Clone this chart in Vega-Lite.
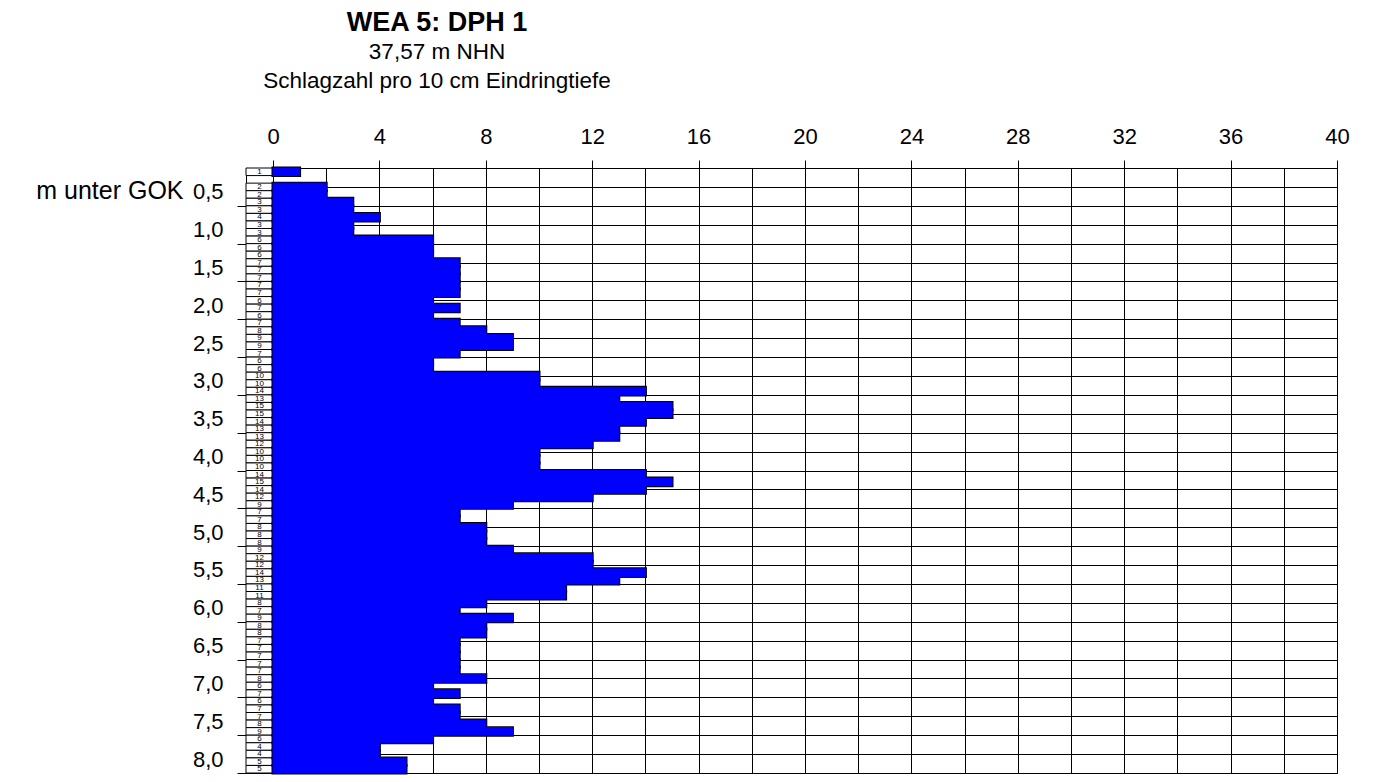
{
  "$schema": "https://vega.github.io/schema/vega-lite/v6.json",
  "padding": {"left": 35, "top": 8, "right": 5, "bottom": 5},
  "config": {
    "font": "Liberation Sans",
    "view": {"stroke": "black", "strokeWidth": 1},
    "axis": {"labelColor": "black", "tickColor": "black", "domainColor": "black", "titleColor": "black", "labelFont": "Liberation Sans", "titleFont": "Liberation Sans"}
  },
  "bounds": "flush",
  "spacing": 0,
  "resolve": {"scale": {"y": "independent", "x": "independent"}, "axis": {"y": "independent", "x": "independent"}},
  "data": {"values": [
    {"from": 0.0, "to": 0.1, "n": 1},
    {"from": 0.2, "to": 0.3, "n": 2},
    {"from": 0.3, "to": 0.4, "n": 2},
    {"from": 0.4, "to": 0.5, "n": 3},
    {"from": 0.5, "to": 0.6, "n": 3},
    {"from": 0.6, "to": 0.7, "n": 4},
    {"from": 0.7, "to": 0.8, "n": 3},
    {"from": 0.8, "to": 0.9, "n": 3},
    {"from": 0.9, "to": 1.0, "n": 6},
    {"from": 1.0, "to": 1.1, "n": 6},
    {"from": 1.1, "to": 1.2, "n": 6},
    {"from": 1.2, "to": 1.3, "n": 7},
    {"from": 1.3, "to": 1.4, "n": 7},
    {"from": 1.4, "to": 1.5, "n": 7},
    {"from": 1.5, "to": 1.6, "n": 7},
    {"from": 1.6, "to": 1.7, "n": 7},
    {"from": 1.7, "to": 1.8, "n": 6},
    {"from": 1.8, "to": 1.9, "n": 7},
    {"from": 1.9, "to": 2.0, "n": 6},
    {"from": 2.0, "to": 2.1, "n": 7},
    {"from": 2.1, "to": 2.2, "n": 8},
    {"from": 2.2, "to": 2.3, "n": 9},
    {"from": 2.3, "to": 2.4, "n": 9},
    {"from": 2.4, "to": 2.5, "n": 7},
    {"from": 2.5, "to": 2.6, "n": 6},
    {"from": 2.6, "to": 2.7, "n": 6},
    {"from": 2.7, "to": 2.8, "n": 10},
    {"from": 2.8, "to": 2.9, "n": 10},
    {"from": 2.9, "to": 3.0, "n": 14},
    {"from": 3.0, "to": 3.1, "n": 13},
    {"from": 3.1, "to": 3.2, "n": 15},
    {"from": 3.2, "to": 3.3, "n": 15},
    {"from": 3.3, "to": 3.4, "n": 14},
    {"from": 3.4, "to": 3.5, "n": 13},
    {"from": 3.5, "to": 3.6, "n": 13},
    {"from": 3.6, "to": 3.7, "n": 12},
    {"from": 3.7, "to": 3.8, "n": 10},
    {"from": 3.8, "to": 3.9, "n": 10},
    {"from": 3.9, "to": 4.0, "n": 10},
    {"from": 4.0, "to": 4.1, "n": 14},
    {"from": 4.1, "to": 4.2, "n": 15},
    {"from": 4.2, "to": 4.3, "n": 14},
    {"from": 4.3, "to": 4.4, "n": 12},
    {"from": 4.4, "to": 4.5, "n": 9},
    {"from": 4.5, "to": 4.6, "n": 7},
    {"from": 4.6, "to": 4.7, "n": 7},
    {"from": 4.7, "to": 4.8, "n": 8},
    {"from": 4.8, "to": 4.9, "n": 8},
    {"from": 4.9, "to": 5.0, "n": 8},
    {"from": 5.0, "to": 5.1, "n": 9},
    {"from": 5.1, "to": 5.2, "n": 12},
    {"from": 5.2, "to": 5.3, "n": 12},
    {"from": 5.3, "to": 5.4, "n": 14},
    {"from": 5.4, "to": 5.5, "n": 13},
    {"from": 5.5, "to": 5.6, "n": 11},
    {"from": 5.6, "to": 5.7, "n": 11},
    {"from": 5.7, "to": 5.8, "n": 8},
    {"from": 5.8, "to": 5.9, "n": 7},
    {"from": 5.9, "to": 6.0, "n": 9},
    {"from": 6.0, "to": 6.1, "n": 8},
    {"from": 6.1, "to": 6.2, "n": 8},
    {"from": 6.2, "to": 6.3, "n": 7},
    {"from": 6.3, "to": 6.4, "n": 7},
    {"from": 6.4, "to": 6.5, "n": 7},
    {"from": 6.5, "to": 6.6, "n": 7},
    {"from": 6.6, "to": 6.7, "n": 7},
    {"from": 6.7, "to": 6.8, "n": 8},
    {"from": 6.8, "to": 6.9, "n": 6},
    {"from": 6.9, "to": 7.0, "n": 7},
    {"from": 7.0, "to": 7.1, "n": 6},
    {"from": 7.1, "to": 7.2, "n": 7},
    {"from": 7.2, "to": 7.3, "n": 7},
    {"from": 7.3, "to": 7.4, "n": 8},
    {"from": 7.4, "to": 7.5, "n": 9},
    {"from": 7.5, "to": 7.6, "n": 6},
    {"from": 7.6, "to": 7.7, "n": 4},
    {"from": 7.7, "to": 7.8, "n": 4},
    {"from": 7.8, "to": 7.9, "n": 5},
    {"from": 7.9, "to": 8.0, "n": 5}
  ]},
  "hconcat": [
    {
      "width": 27,
      "height": 605,
      "layer": [
        {
          "mark": {"type": "rect", "fill": "white", "stroke": "black", "strokeWidth": 1},
          "encoding": {
            "y": {
              "field": "from", "type": "quantitative",
              "scale": {"domain": [0, 8], "reverse": true, "nice": false, "zero": false},
              "axis": {
                "orient": "left",
                "values": [0.5, 1, 1.5, 2, 2.5, 3, 3.5, 4, 4.5, 5, 5.5, 6, 6.5, 7, 7.5, 8],
                "tickCount": 40,
                "labelExpr": "replace(format(datum.value, '.1f'), '.', ',')",
                "labelFontSize": 22,
                "labelPadding": 14,
                "labelOffset": -14,
                "tickSize": 9,
                "domain": false,
                "grid": false,
                "title": "m unter GOK",
                "titleAngle": 0,
                "titleAlign": "right",
                "titleBaseline": "middle",
                "titleX": -63,
                "titleY": 22,
                "titleFontSize": 25,
                "titleFontWeight": "normal"
              }
            },
            "y2": {"field": "to"}
          }
        },
        {
          "mark": {"type": "text", "fontSize": 8, "baseline": "top", "align": "center", "color": "black"},
          "encoding": {
            "y": {"field": "from", "type": "quantitative"},
            "text": {"field": "n", "type": "quantitative"}
          }
        }
      ]
    },
    {
      "width": 1064,
      "height": 605,
      "title": {
        "text": "WEA 5: DPH 1",
        "subtitle": ["37,57 m NHN", "Schlagzahl pro 10 cm Eindringtiefe"],
        "anchor": "start",
        "frame": "group",
        "align": "center",
        "dx": 164,
        "fontSize": 27,
        "fontWeight": "bold",
        "color": "black",
        "subtitleColor": "black",
        "subtitleFontSize": 22.5,
        "subtitleLineHeight": 29,
        "subtitlePadding": 4,
        "offset": 32
      },
      "layer": [
        {
          "mark": {"type": "rect", "fill": "#0000ff", "stroke": "black", "strokeWidth": 3},
          "encoding": {
            "x": {
              "field": "n", "type": "quantitative",
              "scale": {"domain": [0, 40], "nice": false, "zero": true},
              "axis": {
                "orient": "top",
                "values": [0, 2, 4, 6, 8, 10, 12, 14, 16, 18, 20, 22, 24, 26, 28, 30, 32, 34, 36, 38, 40],
                "tickCount": 60,
                "labelExpr": "datum.value % 4 === 0 ? format(datum.value, 'd') : ''",
                "labelFlush": false,
                "grid": true,
                "gridColor": "black",
                "gridOpacity": 1,
                "gridWidth": 1,
                "tickSize": 8,
                "tickOpacity": {"condition": {"test": "datum.value % 4 !== 0", "value": 0}, "value": 1},
                "labelFontSize": 22,
                "labelPadding": 12,
                "domain": false,
                "title": null
              }
            },
            "x2": {"datum": 0},
            "y": {
              "field": "from", "type": "quantitative",
              "scale": {"domain": [0, 8], "reverse": true, "nice": false, "zero": false},
              "axis": {
                "orient": "left",
                "values": [0, 0.25, 0.5, 0.75, 1, 1.25, 1.5, 1.75, 2, 2.25, 2.5, 2.75, 3, 3.25, 3.5, 3.75, 4, 4.25, 4.5, 4.75, 5, 5.25, 5.5, 5.75, 6, 6.25, 6.5, 6.75, 7, 7.25, 7.5, 7.75, 8],
                "tickCount": 80,
                "grid": true,
                "gridColor": "black",
                "gridOpacity": 1,
                "zindex": 0,
                "labels": false,
                "ticks": false,
                "domain": false,
                "title": null
              }
            },
            "y2": {"field": "to"}
          }
        },
        {
          "mark": {"type": "rect", "fill": "#0000ff", "stroke": "#0000ff", "strokeWidth": 1},
          "encoding": {
            "x": {"field": "n", "type": "quantitative"},
            "x2": {"datum": 0},
            "y": {"field": "from", "type": "quantitative"},
            "y2": {"field": "to"}
          }
        }
      ]
    }
  ]
}
